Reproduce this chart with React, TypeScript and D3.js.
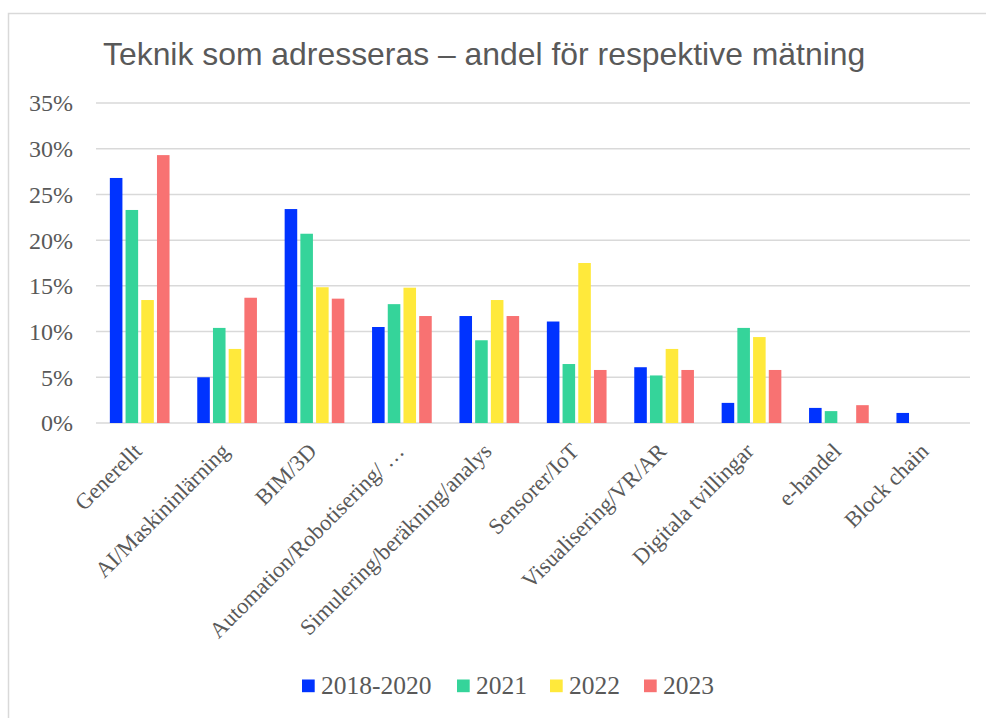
import React from "react";
import * as d3 from "d3";

const categories = [
  "Generellt",
  "AI/Maskininlärning",
  "BIM/3D",
  "Automation/Robotisering/ …",
  "Simulering/beräkning/analys",
  "Sensorer/IoT",
  "Visualisering/VR/AR",
  "Digitala tvillingar",
  "e-handel",
  "Block chain",
];
const seriesNames = ["2018-2020", "2021", "2022", "2023"];
const s2018_2020 = [26.8, 5.0, 23.4, 10.5, 11.7, 11.1, 6.1, 2.2, 1.65, 1.1];
const s2021 = [23.3, 10.4, 20.7, 13.0, 9.05, 6.45, 5.2, 10.4, 1.3, 0];
const s2022 = [13.45, 8.1, 14.85, 14.8, 13.45, 17.5, 8.1, 9.4, 0, 0];
const s2023 = [29.3, 13.7, 13.6, 11.7, 11.7, 5.8, 5.8, 5.8, 1.95, 0];
const yTicks = [0, 5, 10, 15, 20, 25, 30, 35];
const colors = ["#0033ff", "#35d49a", "#ffe93b", "#f87272"];
const title = "Teknik som adresseras – andel för respektive mätning";

export default function App() {
  const W = 986, H = 718;
  const series = [s2018_2020, s2021, s2022, s2023];
  const x = d3.scaleBand<string>().domain(categories).range([96, 970]).paddingInner(0.317).paddingOuter(0.1585);
  const xi = d3.scaleBand<string>().domain(seriesNames).range([0, x.bandwidth()]).paddingInner(0.2).paddingOuter(0);
  const y = d3.scaleLinear().domain([0, 35]).range([423, 103]);
  const textColor = "#595959";
  const serif = "'Liberation Serif', 'Times New Roman', serif";

  const legendItems = [
    { sq: 302, tx: 321 },
    { sq: 457, tx: 476 },
    { sq: 550, tx: 569 },
    { sq: 644, tx: 663 },
  ];

  return (
    <svg width={W} height={H} style={{ position: "absolute", left: 0, top: 0, background: "#fff" }}>
      <rect x={8.5} y={13.5} width={1000} height={720} fill="#fff" stroke="#d9d9d9" strokeWidth={1.5} />
      <text x={103} y={65} fontFamily="'Liberation Sans', Arial, sans-serif" fontSize={31.9} fill={textColor}>{title}</text>
      {yTicks.map((t) => (
        <g key={t}>
          <line x1={96} x2={970} y1={y(t)} y2={y(t)} stroke="#d9d9d9" strokeWidth={1.5} />
          <text x={73} y={y(t)} dy="0.35em" textAnchor="end" fontFamily={serif} fontSize={24} fill={textColor}>{t}%</text>
        </g>
      ))}
      {categories.map((c, ci) => (
        <g key={c} transform={`translate(${x(c)},0)`}>
          {series.map((s, si) => s[ci] > 0 ? (
            <rect key={si} x={xi(seriesNames[si])} width={xi.bandwidth()} y={y(s[ci])} height={y(0) - y(s[ci])} fill={colors[si]} />
          ) : null)}
        </g>
      ))}
      {categories.map((c) => {
        const cx = (x(c) as number) + x.bandwidth() / 2;
        return (
          <text key={c} transform={`translate(${cx - 2},447) rotate(-45)`} textAnchor="end" dy="0.35em" fontFamily={serif} fontSize={22.5} fill={textColor}>{c}</text>
        );
      })}
      {seriesNames.map((n, i) => (
        <g key={n}>
          <rect x={legendItems[i].sq} y={679.5} width={12.7} height={12.7} fill={colors[i]} />
          <text x={legendItems[i].tx} y={694} fontFamily={serif} fontSize={25.5} fill={textColor}>{n}</text>
        </g>
      ))}
    </svg>
  );
}
